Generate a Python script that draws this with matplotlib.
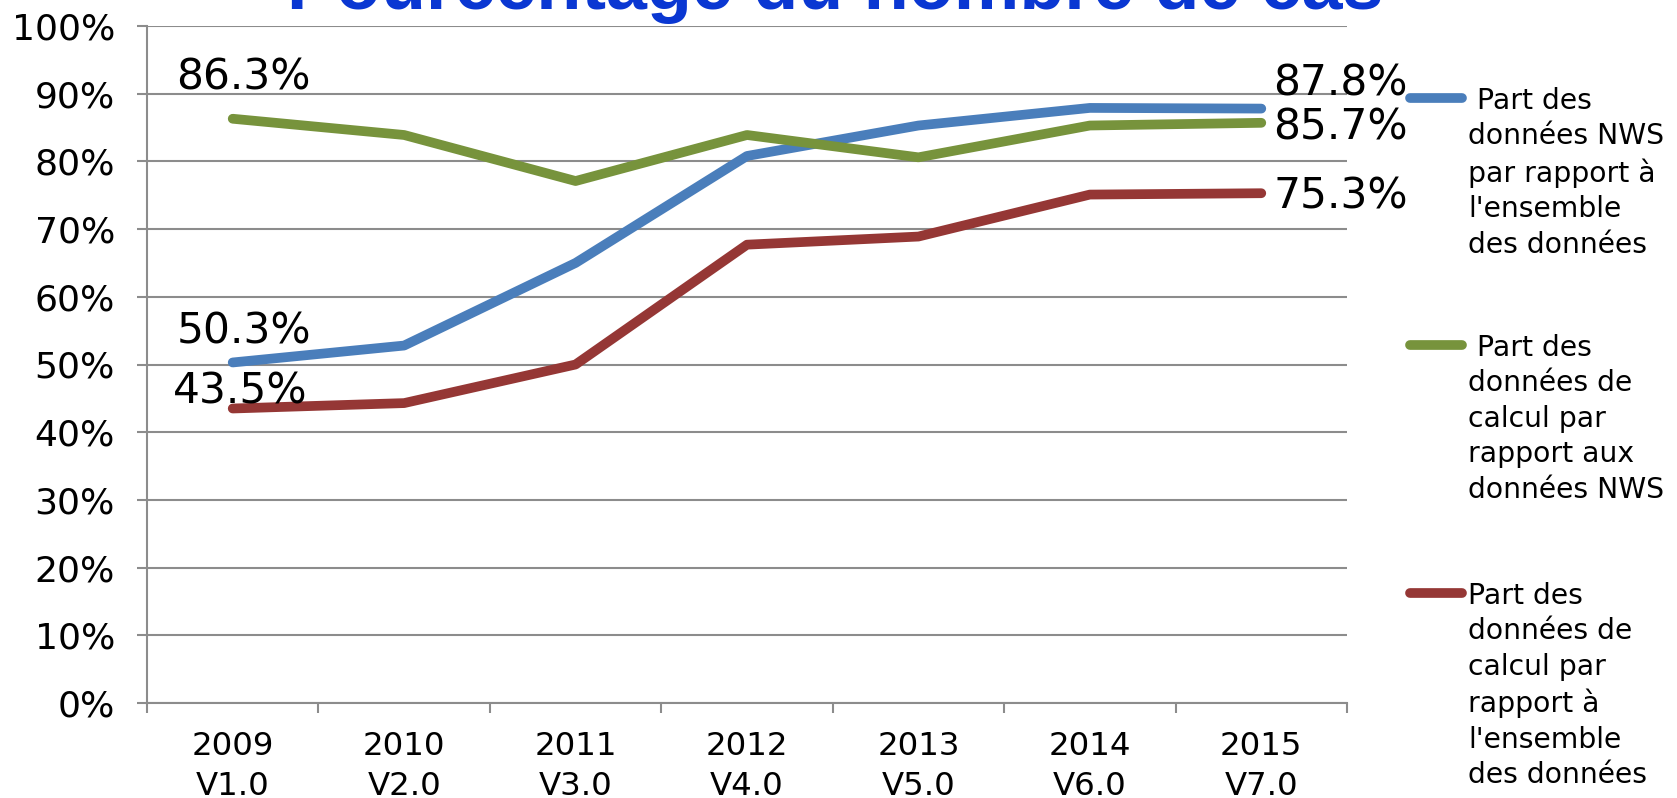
import matplotlib
matplotlib.use("Agg")
import matplotlib.pyplot as plt
from matplotlib.lines import Line2D
from matplotlib.ticker import FixedLocator, NullFormatter

plt.rcParams['font.family'] = ['DejaVu Sans']

categories = ["2009\nV1.0", "2010\nV2.0", "2011\nV3.0", "2012\nV4.0",
              "2013\nV5.0", "2014\nV6.0", "2015\nV7.0"]
nws_share = [50.3, 52.8, 65.0, 80.8, 85.3, 87.9, 87.8]
calc_vs_nws = [86.3, 83.9, 77.1, 83.9, 80.6, 85.3, 85.7]
calc_vs_all = [43.5, 44.3, 50.0, 67.7, 68.9, 75.1, 75.3]
series_labels = [" Part des\ndonnées NWS\npar rapport à\nl'ensemble\ndes données",
                 " Part des\ndonnées de\ncalcul par\nrapport aux\ndonnées NWS",
                 "Part des\ndonnées de\ncalcul par\nrapport à\nl'ensemble\ndes données"]
title = "Pourcentage du nombre de cas"
yticks = [0, 10, 20, 30, 40, 50, 60, 70, 80, 90, 100]

colors = ["#4A7EBB", "#77933C", "#953735"]
series = [nws_share, calc_vs_nws, calc_vs_all]

W, H = 1677, 798
fig = plt.figure(figsize=(W / 100, H / 100), dpi=100)
ax = fig.add_axes([147 / W, (H - 703) / H, 1200 / W, 677 / H])

x = list(range(len(categories)))
for vals, c in zip(series, colors):
    ax.plot(x, vals, color=c, lw=7, solid_capstyle='round', solid_joinstyle='round', zorder=3)

ax.set_xlim(-0.5, len(categories) - 0.5)
ax.set_ylim(0, 100)
ax.set_yticks(yticks)
ax.set_yticklabels([f"{v}%" for v in yticks], fontsize=26)
ax.yaxis.grid(True, color="#8C8C8C", lw=1.5)
ax.set_axisbelow(True)

ax.xaxis.set_major_locator(FixedLocator([i - 0.5 for i in range(len(categories) + 1)]))
ax.xaxis.set_major_formatter(NullFormatter())
ax.xaxis.set_minor_locator(FixedLocator(x))
ax.set_xticklabels(categories, minor=True, fontsize=23.3, linespacing=1.40)
ax.tick_params(axis='x', which='minor', length=0, pad=20)
ax.tick_params(axis='x', which='major', length=7, width=1.5, color="#8C8C8C", direction='out')
ax.tick_params(axis='y', length=7, width=1.5, color="#8C8C8C", pad=16)

for s in ['top', 'right']:
    ax.spines[s].set_visible(False)
for s in ['left', 'bottom']:
    ax.spines[s].set_color("#8C8C8C")
    ax.spines[s].set_linewidth(1.5)

# data labels at first and last points (offsets in pixels)
lab_fs = 30.5
first_offsets = [(11, 31), (11, 41), (8, 17)]
last_offsets = [(12, 25), (12, -5), (12, -3)]
for vals, fo, lo in zip(series, first_offsets, last_offsets):
    ax.annotate(f"{vals[0]:.1f}%", (x[0], vals[0]), xytext=(fo[0] * 0.72, fo[1] * 0.72),
                textcoords='offset points', ha='center', va='center', fontsize=lab_fs, zorder=5)
    ax.annotate(f"{vals[-1]:.1f}%", (x[-1], vals[-1]), xytext=(lo[0] * 0.72, lo[1] * 0.72),
                textcoords='offset points', ha='left', va='center', fontsize=lab_fs, zorder=5)

# title (partly cut off at the top)
fig.text(835 / W, 1 - 9 / H, title, ha='center', va='baseline', fontsize=53,
         fontweight='bold', color="#0A37D2", family='Liberation Sans')

# legend drawn manually
group_y = [98, 345, 593]
for lab, c, gy in zip(series_labels, colors, group_y):
    fig.add_artist(Line2D([1410 / W, 1462 / W], [1 - gy / H, 1 - gy / H], color=c, lw=7,
                          solid_capstyle='round', transform=fig.transFigure))
    fig.text(1468 / W, 1 - (gy - 11) / H, lab, ha='left', va='top', fontsize=20.3,
             linespacing=1.34)

fig.savefig("out.png", dpi=100)
